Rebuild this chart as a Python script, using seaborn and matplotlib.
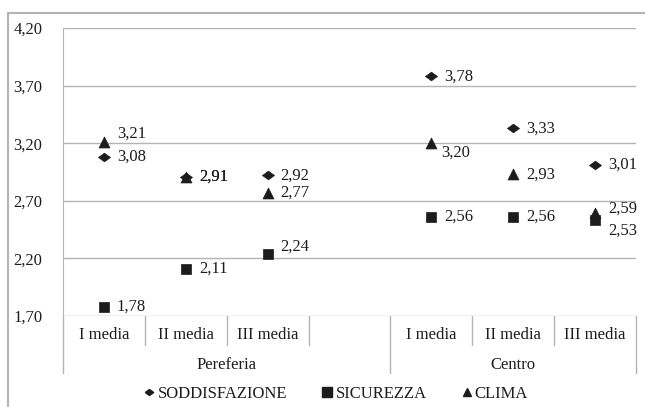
import numpy as np
import pandas as pd
import matplotlib
matplotlib.use("Agg")
import matplotlib.pyplot as plt
import matplotlib.transforms as mtransforms
from matplotlib.lines import Line2D
import seaborn as sns

# slots along the x axis (empty slot separates the two groups)
slots = ["I media", "II media", "III media", "", "I media", "II media", "III media"]
groups = ["Pereferia", "Centro"]
group_center = [1.5, 5.0]
data_slots = [0, 1, 2, 4, 5, 6]

soddisfazione = [3.08, 2.91, 2.92, 3.78, 3.33, 3.01]
sicurezza = [1.78, 2.11, 2.24, 2.56, 2.56, 2.53]
clima = [3.21, 2.91, 2.77, 3.20, 2.93, 2.59]
series = ["SODDISFAZIONE", "SICUREZZA", "CLIMA"]

yticks = [1.70, 2.20, 2.70, 3.20, 3.70, 4.20]

rows = []
for name, vals in zip(series, [soddisfazione, sicurezza, clima]):
    for s, v in zip(data_slots, vals):
        rows.append({"slot": s, "valore": v, "serie": name})
df = pd.DataFrame(rows)

# label offsets in pixels (dx, dy) where labels were nudged in the original
nudge = {("CLIMA", 0): (13, 8), ("SICUREZZA", 2): (13, 7),
         ("CLIMA", 4): (10, -9), ("CLIMA", 6): (13, 5),
         ("SICUREZZA", 6): (13, -10)}

sns.set_style("white")
plt.rcParams["font.family"] = ["Liberation Serif", "DejaVu Serif"]
FS = 12

dark = "#1c1c1c"
grid = "#b4b4b4"
wide_diamond = [(-1, 0), (0, 0.72), (1, 0), (0, -0.72), (-1, 0)]
markers = {"SODDISFAZIONE": wide_diamond, "SICUREZZA": "s", "CLIMA": "^"}
sizes = {"SODDISFAZIONE": 75, "SICUREZZA": 58, "CLIMA": 62}

fig = plt.figure(figsize=(6.45, 4.07), dpi=100)
W, H = 645, 407
ax = fig.add_axes([63 / W, (H - 316) / H, (636 - 63) / W, (316 - 28) / H])

for name in series:
    sub = df[df["serie"] == name]
    sns.scatterplot(data=sub, x="slot", y="valore", marker=markers[name],
                    s=sizes[name], color=dark, edgecolor=dark, linewidth=0.5,
                    ax=ax, legend=False, zorder=3)
    for _, r in sub.iterrows():
        dx, dy = nudge.get((name, r["slot"]), (13, 0))
        ax.annotate(f"{r['valore']:.2f}".replace(".", ","), (r["slot"], r["valore"]),
                    xytext=(dx, dy), textcoords="offset pixels",
                    ha="left", va="center", fontsize=FS, color=dark)

ax.set_xlim(-0.5, 6.5)
ax.set_ylim(1.70, 4.20)
ax.set_yticks(yticks)
ax.set_yticklabels([f"{v:.2f}".replace(".", ",") for v in yticks], color=dark,
                   fontsize=FS)
ax.tick_params(axis="y", length=0, pad=15)
ax.set_xticks([])
ax.set_xlabel("")
ax.set_ylabel("")
ax.grid(axis="y", color=grid, linewidth=1)
for side in ["top", "right", "bottom"]:
    ax.spines[side].set_visible(False)
ax.spines["left"].set_color(grid)

# hierarchical category axis below the plot
blend = mtransforms.blended_transform_factory(ax.transData, ax.transAxes)


def below(n):
    return blend + mtransforms.ScaledTranslation(0, -n / 100, fig.dpi_scale_trans)


for i, lab in enumerate(slots):
    if lab:
        ax.text(i, 0, lab, transform=below(19), ha="center", va="center",
                fontsize=FS, color=dark)


def vsep(xd, depth):
    x_pix = ax.transData.transform((xd, 1.70))[0]
    y0 = ax.transAxes.transform((0, 0))[1]
    fig.add_artist(Line2D([x_pix, x_pix], [y0, y0 - depth], color=grid, lw=1,
                          transform=None))


for b in [0.5, 1.5, 2.5, 4.5, 5.5]:
    vsep(b, 29)
for b in [-0.5, 3.5, 6.5]:
    vsep(b, 57)

for g, mid in zip(groups, group_center):
    ax.text(mid, 0, g, transform=below(49), ha="center", va="center",
            fontsize=FS, color=dark)

# legend
handles = [Line2D([], [], marker=markers[n], linestyle="none", color=dark,
                  markersize=6 if n != "SICUREZZA" else 7) for n in series]
fig.legend(handles, series, loc="center", bbox_to_anchor=(0.52, (H - 394) / H),
           ncol=3, frameon=False, handletextpad=0.1, columnspacing=2.0,
           handlelength=0.8, fontsize=FS, labelcolor=dark)

# outer chart border (top and left edges visible)
fig.add_artist(Line2D([8 / W, 1], [1 - 13 / H, 1 - 13 / H], color=grid, lw=1.5,
                      transform=fig.transFigure))
fig.add_artist(Line2D([8 / W, 8 / W], [0, 1 - 13 / H], color=grid, lw=1.5,
                      transform=fig.transFigure))

fig.savefig("out.png", dpi=100)
